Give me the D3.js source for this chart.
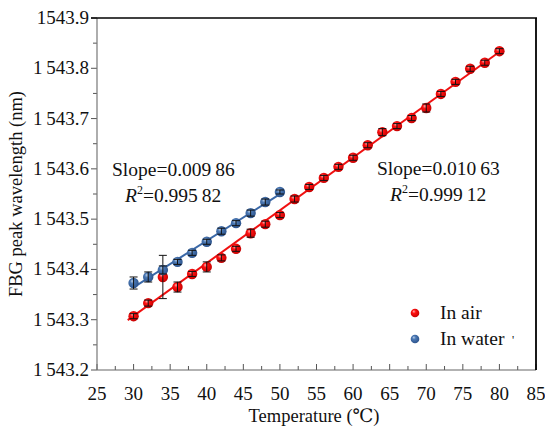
<!DOCTYPE html>
<html><head><meta charset="utf-8">
<script src="https://cdn.jsdelivr.net/npm/d3@7"></script>
<style>body{margin:0;background:#fff}svg{display:block}</style>
</head><body><svg id="c" width="545" height="432" font-family="'Liberation Serif', 'Times New Roman', 'DejaVu Serif', serif"></svg>
<script>
const airT = [30,32,34,36,38,40,42,44,46,48,50,52,54,56,58,60,62,64,66,68,70,72,74,76,78,80];
const airV = [1543.307,1543.333,1543.385,1543.365,1543.391,1543.405,1543.423,1543.441,1543.472,1543.490,1543.508,1543.540,1543.564,1543.582,1543.604,1543.622,1543.647,1543.673,1543.685,1543.701,1543.721,1543.749,1543.773,1543.799,1543.811,1543.834];
const airErr = [0.005,0.006,0.043,0.010,0.005,0.010,0.006,0.005,0.008,0.006,0.005,0.006,0.005,0.005,0.005,0.005,0.005,0.007,0.005,0.005,0.008,0.005,0.005,0.005,0.005,0.005];
const waterT = [30,32,34,36,38,40,42,44,46,48,50];
const waterV = [1543.373,1543.385,1543.399,1543.415,1543.433,1543.455,1543.476,1543.492,1543.512,1543.534,1543.554];
const waterErr = [0.012,0.010,0.008,0.005,0.005,0.005,0.006,0.005,0.006,0.006,0.004];
const xTicks = [25,30,35,40,45,50,55,60,65,70,75,80,85];
const yTicks = [1543.2,1543.3,1543.4,1543.5,1543.6,1543.7,1543.8,1543.9];
const yTickLabels = ["1\u2009543.2","1\u2009543.3","1\u2009543.4","1\u2009543.5","1\u2009543.6","1\u2009543.7","1\u2009543.8","1543.9"];
const fitRange = {air:[29.2,80.4], water:[30.1,50]};

const svg = d3.select("#c");
const FF = "'Liberation Serif', 'Times New Roman', 'DejaVu Serif', serif";
const L=97,R=536,T=18,B=370;
const x = d3.scaleLinear().domain([25,85]).range([L,R]);
const y = d3.scaleLinear().domain([1543.2,1543.9]).range([B,T]);

const defs = svg.append("defs");
function grad(id,c0,c1,c2){
  const g=defs.append("radialGradient").attr("id",id).attr("cx","45%").attr("cy","45%").attr("r","60%").attr("fx","35%").attr("fy","30%");
  g.append("stop").attr("offset","0%").attr("stop-color",c0);
  g.append("stop").attr("offset","35%").attr("stop-color",c1);
  g.append("stop").attr("offset","100%").attr("stop-color",c2);
}
grad("gr","#ffb0b0","#ff1010","#c00000");
grad("gb","#b8cce6","#4a78b4","#2a5088");

function txt(g){return g.append("text").attr("font-family",FF).attr("fill","#111");}

const ga = svg.append("g");
const xMinor = d3.range(25,85.01,2.5);
const yMinor = d3.range(1543.2,1543.901,0.05);
ga.selectAll(".xm").data(xMinor).join("line").attr("x1",d=>x(d)).attr("x2",d=>x(d)).attr("y1",B).attr("y2",(d,i)=>i%2===0?B-6:B-4).attr("stroke","#555").attr("stroke-width",1);
ga.selectAll(".ym").data(yMinor).join("line").attr("y1",d=>y(d)).attr("y2",d=>y(d)).attr("x1",L).attr("x2",(d,i)=>i%2===0?L-6:L-4).attr("stroke","#555").attr("stroke-width",1);
ga.append("line").attr("x1",L).attr("x2",R).attr("y1",B).attr("y2",B).attr("stroke","#666").attr("stroke-width",1.2);
ga.append("line").attr("x1",L).attr("x2",L).attr("y1",T).attr("y2",B).attr("stroke","#777").attr("stroke-width",1.2);
ga.append("line").attr("x1",L-6).attr("x2",R+1).attr("y1",T).attr("y2",T).attr("stroke","#000").attr("stroke-width",1.6);
ga.append("line").attr("x1",R).attr("x2",R).attr("y1",T).attr("y2",B).attr("stroke","#000").attr("stroke-width",1.8);

xTicks.forEach(d=>txt(ga).attr("x",x(d)).attr("y",400).attr("text-anchor","middle").attr("font-size",19).text(d));
yTicks.forEach((d,i)=>txt(ga).attr("x",89).attr("y",y(d)+6).attr("text-anchor","end").attr("font-size",19).text(yTickLabels[i]));
txt(svg).attr("x",314).attr("y",422).attr("text-anchor","middle").attr("font-size",18.5).text("Temperature (\u2103)");
txt(svg).attr("transform","translate(22,194) rotate(-90)").attr("text-anchor","middle").attr("font-size",18.5).text("FBG peak wavelength (nm)");

function fit(xs,ys){const n=xs.length,mx=d3.mean(xs),my=d3.mean(ys);let sxy=0,sxx=0;for(let i=0;i<n;i++){sxy+=(xs[i]-mx)*(ys[i]-my);sxx+=(xs[i]-mx)**2;}const b=sxy/sxx;return t=>my+b*(t-mx);}
const fa=fit(airT,airV), fw=fit(waterT,waterV);
svg.append("line").attr("x1",x(fitRange.air[0])).attr("y1",y(fa(fitRange.air[0]))).attr("x2",x(fitRange.air[1])).attr("y2",y(fa(fitRange.air[1]))).attr("stroke","#f01010").attr("stroke-width",2);
svg.append("line").attr("x1",x(fitRange.water[0])).attr("y1",y(fw(fitRange.water[0]))).attr("x2",x(fitRange.water[1])).attr("y2",y(fw(fitRange.water[1]))).attr("stroke","#3a68a8").attr("stroke-width",2);

function series(ts,vs,es,g){
  const d=ts.map((t,i)=>({t,v:vs[i],e:es[i]}));
  const gg=svg.append("g");
  gg.selectAll("circle").data(d).join("circle").attr("cx",p=>x(p.t)).attr("cy",p=>y(p.v)).attr("r",5.2).attr("fill",`url(#${g})`);
  const eb=svg.append("g").attr("stroke","#111").attr("stroke-width",1);
  eb.selectAll(".v").data(d).join("line").attr("x1",p=>x(p.t)).attr("x2",p=>x(p.t)).attr("y1",p=>y(p.v-p.e)).attr("y2",p=>y(p.v+p.e));
  eb.selectAll(".t").data(d).join("line").attr("x1",p=>x(p.t)-4).attr("x2",p=>x(p.t)+4).attr("y1",p=>y(p.v+p.e)).attr("y2",p=>y(p.v+p.e));
  eb.selectAll(".b").data(d).join("line").attr("x1",p=>x(p.t)-4).attr("x2",p=>x(p.t)+4).attr("y1",p=>y(p.v-p.e)).attr("y2",p=>y(p.v-p.e));
}
series(airT,airV,airErr,"gr");
series(waterT,waterV,waterErr,"gb");

function ann(xp,yp,slope,r2){
  txt(svg).attr("x",xp).attr("y",yp).attr("font-size",19.5).text("Slope="+slope);
  const t=txt(svg).attr("x",xp+13).attr("y",yp+26).attr("font-size",19.5);
  t.append("tspan").attr("font-style","italic").text("R");
  t.append("tspan").attr("font-size",12).attr("dy",-8).text("2");
  t.append("tspan").attr("dy",8).text("=0."+r2);
}
ann(112,176,"0.009\u200986","995\u200982");
ann(377,175,"0.010\u200963","999\u200912");

const leg=[{c:"gr",t:"In air",y:313},{c:"gb",t:"In water",y:339}];
leg.forEach(l=>{
  svg.append("circle").attr("cx",415).attr("cy",l.y).attr("r",4.3).attr("fill",`url(#${l.c})`);
  txt(svg).attr("x",440).attr("y",l.y+6).attr("font-size",19.5).text(l.t);
});
txt(svg).attr("x",512).attr("y",344).attr("font-size",12).text("'");
</script></body></html>
